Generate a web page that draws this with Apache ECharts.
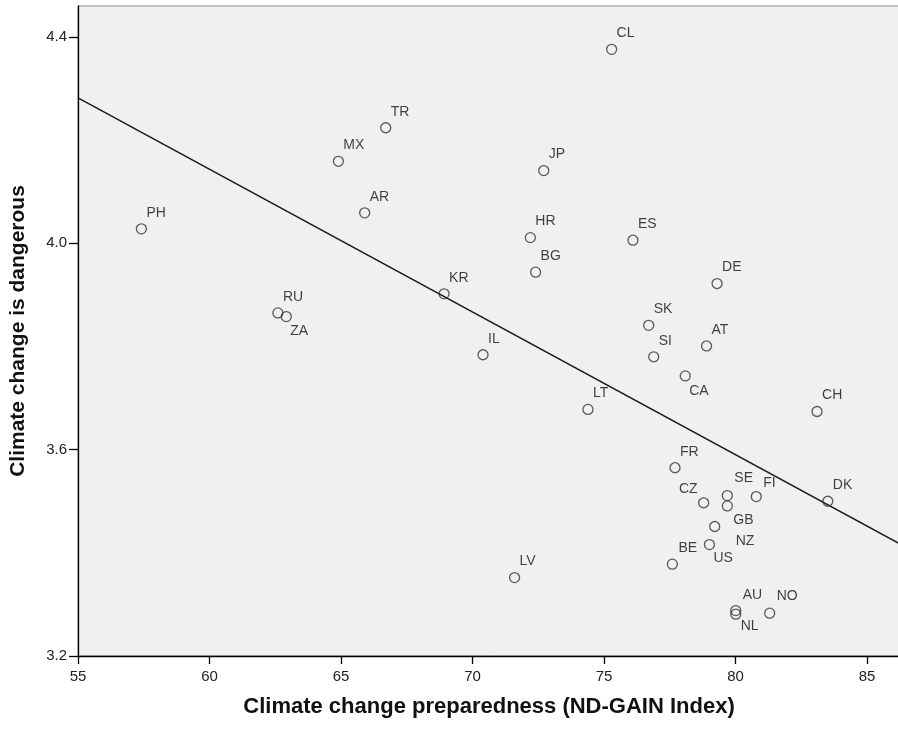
<!DOCTYPE html>
<html>
<head>
<meta charset="utf-8">
<script src="https://cdn.jsdelivr.net/npm/echarts@6/dist/echarts.min.js"></script>
<style>
html,body{margin:0;padding:0;background:#fff;}
#chart{width:898px;height:729px;}
</style>
</head>
<body>
<div id="chart"></div>
<script>
// ---- data ----
const countries = ['PH','TR','MX','AR','KR','RU','ZA','IL','CL','JP','HR','ES','BG','DE','SK','AT','SI','CA','LT','CH','FR','SE','FI','CZ','DK','GB','NZ','US','BE','LV','AU','NL','NO'];
const preparedness = [57.41,66.70,64.90,65.90,68.92,62.60,62.92,70.40,75.29,72.71,72.20,76.10,72.40,79.30,76.70,78.90,76.89,78.09,74.39,83.10,77.70,79.69,80.79,78.79,83.51,79.69,79.21,79.01,77.60,71.60,80.01,80.01,81.30];
const dangerous    = [4.028,4.224,4.159,4.059,3.902,3.865,3.858,3.784,4.376,4.141,4.011,4.006,3.944,3.922,3.841,3.801,3.780,3.743,3.678,3.674,3.565,3.511,3.509,3.497,3.500,3.491,3.451,3.416,3.378,3.352,3.288,3.281,3.283];
const fitX = [55, 86.255];
const fitY = [4.282, 3.417];
const xTicks = [55,60,65,70,75,80,85];
const yTicks = [3.2,3.6,4.0,4.4];

// ---- label placement (style only) ----
const UR = {align:'left', offset:[5,-16]};
const labelPlace = {
  ZA:{align:'left', offset:[4,15]},
  CA:{align:'left', offset:[4,15]},
  CZ:{align:'right', offset:[-6,-14]},
  GB:{align:'left', offset:[6,14]},
  NZ:{align:'left', offset:[21,15]},
  US:{align:'left', offset:[4,14]},
  BE:{align:'left', offset:[6,-16]},
  FI:{align:'left', offset:[7,-13]},
  SE:{align:'left', offset:[7,-17]},
  AU:{align:'left', offset:[7,-15]},
  NO:{align:'left', offset:[7,-17]},
  NL:{align:'left', offset:[5,12]}
};

const pts = countries.map((c,i)=>{
  const p = labelPlace[c] || UR;
  return {
    name:c,
    value:[preparedness[i], dangerous[i]],
    label:{show:true, position:'inside', align:p.align, verticalAlign:'middle', offset:p.offset}
  };
});

const xMin = xTicks[0], xMax = 86.255;
const yMin = yTicks[0], yMax = 4.460;
const FONT = 'Liberation Sans, Arial, sans-serif';

const chart = echarts.init(document.getElementById('chart'), null, {renderer:'canvas'});
chart.setOption({
  animation:false,
  backgroundColor:'#ffffff',
  textStyle:{fontFamily:FONT},
  grid:{left:78, top:6, width:822, height:650, outerBoundsMode:'none', containLabel:false,
        show:true, backgroundColor:'#f0f0f0', borderColor:'#8c8c8c', borderWidth:1},
  xAxis:{
    type:'value', min:xMin, max:xMax, interval:5,
    name:'Climate change preparedness (ND-GAIN Index)',
    nameLocation:'middle', nameGap:40,
    nameTextStyle:{fontSize:22, fontWeight:'bold', color:'#111', fontFamily:FONT},
    axisLine:{show:true, onZero:false, lineStyle:{color:'#000', width:1.3}},
    axisTick:{show:true, length:8, inside:false, lineStyle:{color:'#000', width:1.3}},
    axisLabel:{show:true, margin:13, fontSize:15, color:'#222', showMaxLabel:false,
      formatter:v=> xTicks.indexOf(v)>=0 ? String(v) : ''},
    splitLine:{show:false}
  },
  yAxis:{
    type:'value', min:yMin, max:yMax, interval:0.4,
    name:'Climate change is dangerous',
    nameLocation:'middle', nameGap:49, nameRotate:90,
    nameTextStyle:{fontSize:21, fontWeight:'bold', color:'#111', fontFamily:FONT},
    axisLine:{show:true, onZero:false, lineStyle:{color:'#000', width:1.3}},
    axisTick:{show:true, length:9, inside:false, lineStyle:{color:'#000', width:1.3}},
    axisLabel:{show:true, margin:11, fontSize:15, color:'#222', showMaxLabel:false,
      formatter:v=> yTicks.some(t=>Math.abs(t-v)<1e-6) ? v.toFixed(1) : ''},
    splitLine:{show:false}
  },
  series:[
    {
      type:'line',
      data:fitX.map((x,i)=>[x, fitY[i]]),
      symbol:'none',
      lineStyle:{color:'#1a1a1a', width:1.5},
      silent:true, z:2
    },
    {
      type:'scatter',
      data:pts,
      symbol:'circle',
      symbolSize:10,
      itemStyle:{color:'rgba(0,0,0,0)', borderColor:'#333', borderWidth:1.3},
      label:{show:true, formatter:'{b}', fontSize:14, color:'#111', fontFamily:FONT},
      z:3
    }
  ]
});
</script>
</body>
</html>
